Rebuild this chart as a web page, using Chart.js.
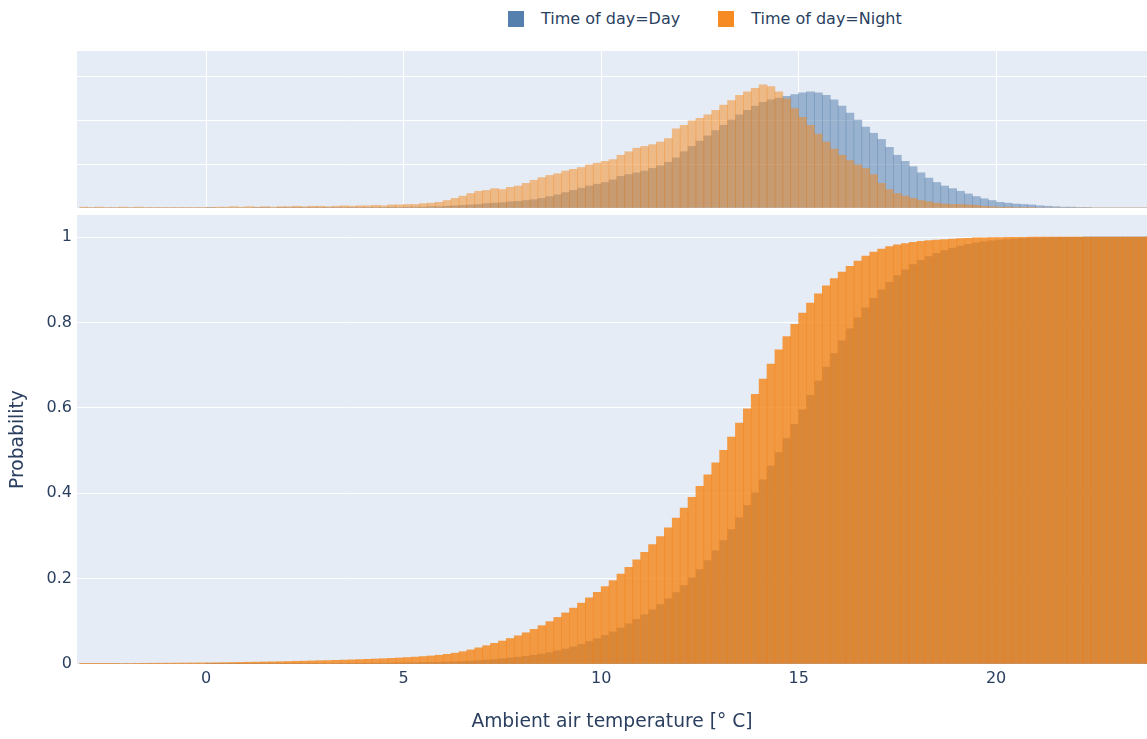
<!DOCTYPE html>
<html>
<head>
<meta charset="utf-8">
<title>Ambient air temperature by time of day</title>
<script src="https://cdn.jsdelivr.net/npm/chart.js@4.4.1/dist/chart.umd.min.js"></script>
<style>
    body {
        margin: 0;
        background: #fff;
        width: 1147px;
        height: 739px;
        overflow: hidden;
        position: relative;
        font-family: "DejaVu Sans", Verdana, sans-serif;
    }
    #topWrap { position: absolute; left: 0; top: 0; width: 1147px; height: 212px; }
    #mainWrap { position: absolute; left: 0; top: 195px; width: 1147px; height: 544px; }
    #legend {
        position: absolute; left: 508px; top: 9px;
        display: flex; align-items: center;
        font-size: 16px; color: #2a3f5f;
    }
    .item { display: flex; align-items: center; margin-right: 38px; }
    .swatch { width: 16px; height: 16px; margin-right: 17px; }
</style>
</head>
<body>
<div id="legend"></div>
<div id="topWrap"><canvas id="histChart"></canvas></div>
<div id="mainWrap"><canvas id="cdfChart"></canvas></div>
<script>
// histogram bins: 0.2 °C wide, first edge at -3.2 °C
const binStart = -3.2;
const binWidth = 0.2;

const seriesNames = ['Time of day=Day', 'Time of day=Night'];
const xTicks = [0, 5, 10, 15, 20];
const probTicks = [0, 0.2, 0.4, 0.6, 0.8, 1];
const countGrid = [0, 100, 200, 300];

// counts per bin
const dayCounts = [
    0, 0, 0, 0, 0, 0, 0, 0, 0, 0,
    0, 0, 0, 0, 0, 0, 1, 0, 0, 0,
    0, 0, 1, 1, 0, 1, 1, 1, 1, 1,
    1, 1, 1, 1, 1, 1, 1, 1, 1, 2,
    1, 2, 2, 2, 3, 3, 4, 5, 6, 7,
    8, 10, 11, 12, 14, 15, 17, 19, 22, 26,
    30, 35, 40, 45, 50, 54, 58, 64, 72, 76,
    80, 84, 90, 96, 104, 114, 128, 140, 152, 164,
    176, 188, 200, 212, 222, 232, 240, 246, 250, 254,
    258, 262, 264, 262, 256, 246, 232, 216, 200, 184,
    170, 156, 138, 120, 106, 94, 80, 68, 58, 50,
    44, 38, 32, 26, 21, 17, 13, 11, 9, 8,
    7, 5, 4, 3, 2, 2, 1, 1, 0, 0,
    0, 0, 0, 0, 0, 0
];

const nightCounts = [
    2, 1, 2, 1, 1, 2, 1, 2, 1, 1,
    1, 1, 1, 1, 1, 1, 1, 2, 2, 3,
    2, 3, 2, 3, 2, 3, 3, 4, 3, 4,
    4, 3, 4, 5, 4, 5, 5, 6, 5, 7,
    7, 8, 8, 10, 11, 13, 17, 22, 27, 33,
    38, 40, 44, 42, 47, 50, 56, 63, 69, 74,
    78, 84, 88, 92, 98, 102, 106, 110, 120, 128,
    136, 140, 144, 150, 158, 180, 188, 198, 204, 212,
    222, 234, 244, 256, 264, 272, 280, 276, 264, 248,
    226, 206, 188, 168, 150, 134, 120, 108, 98, 90,
    76, 56, 42, 33, 27, 22, 17, 14, 11, 9,
    8, 8, 7, 6, 4, 3, 2, 2, 1, 1,
    1, 0, 0, 0, 0, 0, 0, 0, 0, 0,
    0, 0, 0, 0, 0, 0
];

const binCenters = dayCounts.map((_, i) => +(binStart + binWidth * (i + 0.5)).toFixed(2));

function cumulative(counts) {
    const total = counts.reduce((a, b) => a + b, 0);
    let run = 0;
    return counts.map(c => { run += c; return run / total; });
}

function toPoints(values) {
    return values.map((v, i) => ({ x: binCenters[i], y: v }));
}

const fontFamily = '"DejaVu Sans", Verdana, sans-serif';
const textColor = '#2a3f5f';
const xMin = -3.27;
const xMax = 23.82;

const plotBg = {
    id: 'plotBg',
    beforeDraw(chart) {
        const { ctx, chartArea: a } = chart;
        ctx.save();
        ctx.fillStyle = '#e5ecf6';
        ctx.fillRect(a.left, a.top, a.width, a.height);
        ctx.restore();
    }
};

function barSet(label, values, color, order) {
    return {
        label,
        data: toPoints(values),
        backgroundColor: color,
        borderWidth: 0,
        barPercentage: 1,
        categoryPercentage: 1,
        grouped: false,
        order
    };
}

function xAxis(showLabels) {
    return {
        type: 'linear',
        min: xMin,
        max: xMax,
        offset: false,
        afterBuildTicks: s => { s.ticks = xTicks.map(v => ({ value: v })); },
        afterFit: s => { if (showLabels) s.height = 75; },
        grid: { display: !showLabels, color: '#ffffff', lineWidth: 1, drawTicks: false, offset: false },
        border: { display: false },
        ticks: {
            display: showLabels,
            padding: 5,
            color: textColor,
            font: { family: fontFamily, size: 16 }
        },
        title: {
            display: showLabels,
            text: 'Ambient air temperature [° C]',
            color: textColor,
            font: { family: fontFamily, size: 18.7 },
            padding: { top: 0, bottom: 6 }
        }
    };
}

function buildLegend() {
    const box = document.getElementById('legend');
    const swatches = ['#4c78a8', '#f58518'];
    seriesNames.forEach((name, i) => {
        const item = document.createElement('div');
        item.className = 'item';
        const sw = document.createElement('span');
        sw.className = 'swatch';
        sw.style.background = swatches[i];
        sw.style.opacity = 0.95;
        const txt = document.createElement('span');
        txt.textContent = name;
        item.appendChild(sw);
        item.appendChild(txt);
        box.appendChild(item);
    });
}

function renderHistogram() {
    const ctx = document.getElementById('histChart').getContext('2d');
    new Chart(ctx, {
        type: 'bar',
        data: {
            datasets: [
                barSet(seriesNames[0], dayCounts, 'rgba(76, 120, 168, 0.5)', 2),
                barSet(seriesNames[1], nightCounts, 'rgba(245, 133, 24, 0.5)', 1)
            ]
        },
        options: {
            responsive: true,
            maintainAspectRatio: false,
            animation: false,
            layout: { padding: { top: 51, bottom: 4, left: 0, right: 0 } },
            plugins: { legend: { display: false }, tooltip: { enabled: false } },
            scales: {
                x: xAxis(false),
                y: {
                    min: 0,
                    max: 357,
                    afterBuildTicks: s => { s.ticks = countGrid.map(v => ({ value: v })); },
                    afterFit: s => { s.width = 77; },
                    grid: { color: '#ffffff', lineWidth: 1, drawTicks: false },
                    border: { display: false },
                    ticks: { display: false }
                }
            }
        },
        plugins: [plotBg]
    });
}

function renderCdf() {
    const ctx = document.getElementById('cdfChart').getContext('2d');
    new Chart(ctx, {
        type: 'bar',
        data: {
            datasets: [
                barSet(seriesNames[0], cumulative(dayCounts), 'rgba(76, 120, 168, 0.8)', 2),
                barSet(seriesNames[1], cumulative(nightCounts), 'rgba(245, 133, 24, 0.8)', 1)
            ]
        },
        options: {
            responsive: true,
            maintainAspectRatio: false,
            animation: false,
            layout: { padding: { top: 20, bottom: 0, left: 0, right: 0 } },
            plugins: { legend: { display: false }, tooltip: { enabled: false } },
            scales: {
                x: xAxis(true),
                y: {
                    min: 0,
                    max: 1.052,
                    afterBuildTicks: s => { s.ticks = probTicks.map(v => ({ value: v })); },
                    afterFit: s => { s.width = 77; },
                    grid: { color: '#ffffff', lineWidth: 1, drawTicks: false },
                    border: { display: false },
                    ticks: {
                        padding: 5,
                        color: textColor,
                        font: { family: fontFamily, size: 16 },
                        callback: v => String(v)
                    },
                    title: {
                        display: true,
                        text: 'Probability',
                        color: textColor,
                        font: { family: fontFamily, size: 18.7 },
                        padding: { top: 7, bottom: 0 }
                    }
                }
            }
        },
        plugins: [plotBg]
    });
}

window.addEventListener('DOMContentLoaded', () => {
    buildLegend();
    renderHistogram();
    renderCdf();
});
</script>
</body>
</html>
